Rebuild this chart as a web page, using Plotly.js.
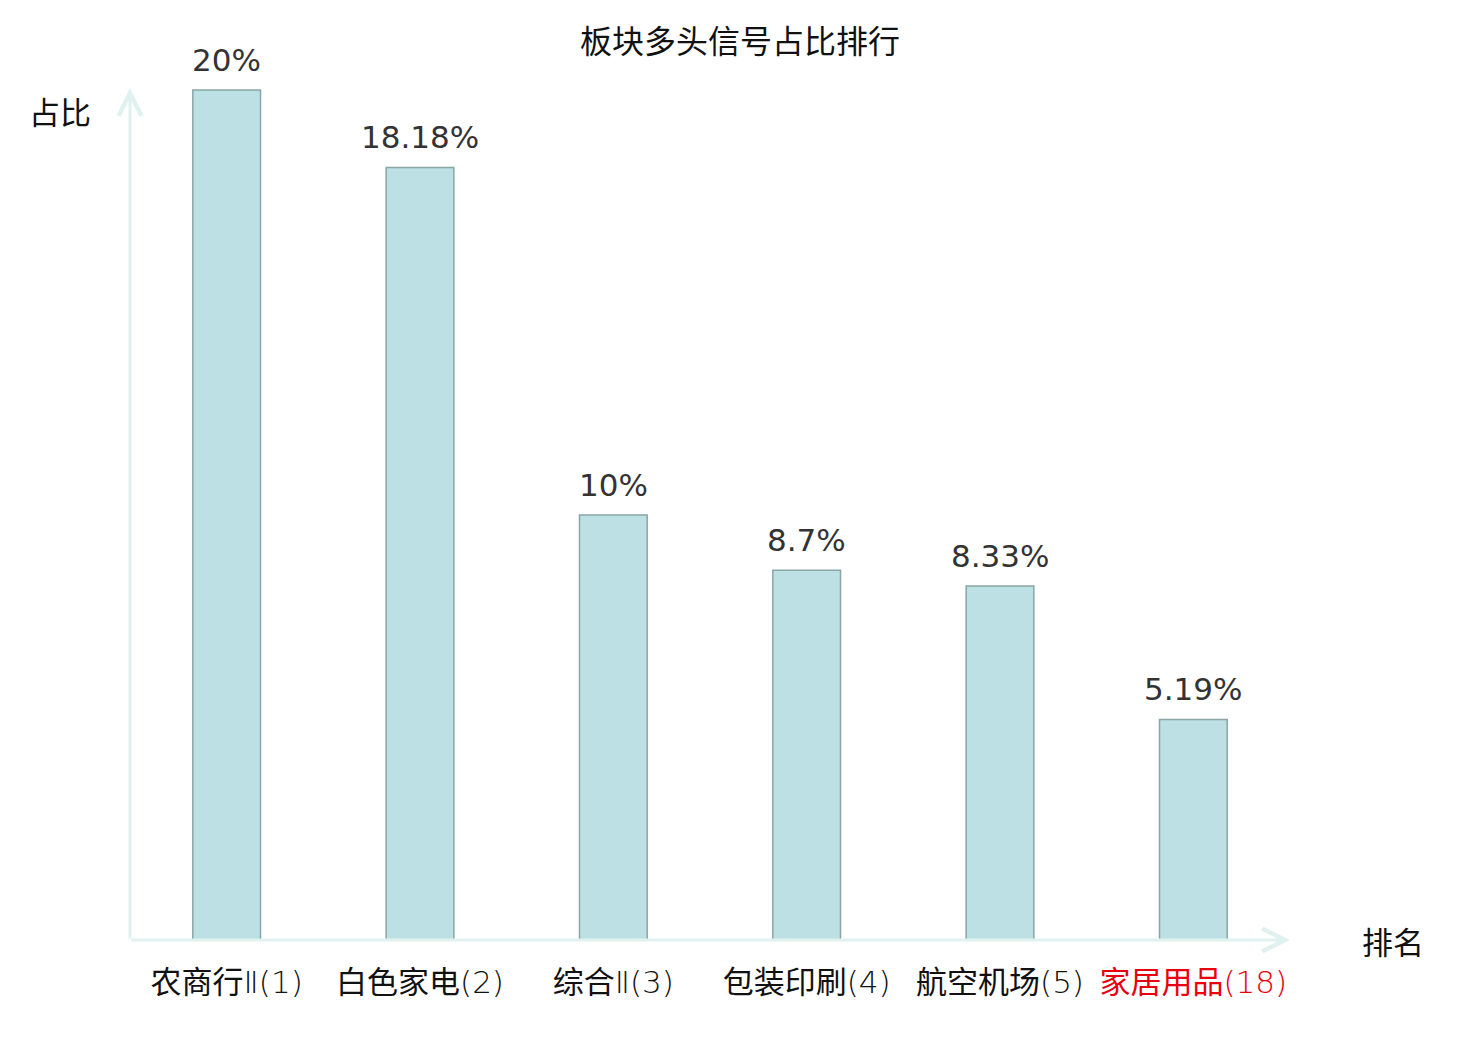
<!DOCTYPE html>
<html>
<head>
<meta charset="utf-8">
<script src="https://cdn.plot.ly/plotly-3.0.1.min.js"></script>
<style>
  html, body { margin: 0; padding: 0; background: #fff; }
  #plot { width: 1480px; height: 1040px; }
</style>
</head>
<body>
<div id="plot"></div>
<script>
// 板块多头信号占比排行
var sectors = ['农商行', '白色家电', '综合', '包装印刷', '航空机场', '家居用品'];
var suffixes = ['Ⅱ', '', 'Ⅱ', '', '', ''];
var ranks = [1, 2, 3, 4, 5, 18];
var shares = [20, 18.18, 10, 8.7, 8.33, 5.19];
var shareLabels = ['20%', '18.18%', '10%', '8.7%', '8.33%', '5.19%'];
var highlight = '家居用品';

var cjk = '"Noto Sans CJK SC", "Noto Sans", sans-serif';
var yTop = 20.05;

var cats = sectors.map(function (s, i) { return s + suffixes[i] + '(' + ranks[i] + ')'; });
var tickText = sectors.map(function (s, i) {
  var t = s + '<span style="font-family:DejaVu Sans;font-weight:200">' +
    suffixes[i] + '(' + ranks[i] + ')</span>';
  return s === highlight ? '<span style="color:#e8000b">' + t + '</span>' : t;
});

var trace1 = {
  x: cats,
  y: shares,
  type: 'bar',
  width: 0.35,
  marker: {
    color: '#bce0e3',
    line: { color: '#88a5a7', width: 1.5 }
  },
  hoverinfo: 'none'
};

var annotations = cats.map(function (c, i) {
  return {
    x: c, y: shares[i], xref: 'x', yref: 'y',
    text: shareLabels[i], showarrow: false,
    yanchor: 'bottom', yshift: 10,
    font: { family: 'DejaVu Sans, sans-serif', size: 31, color: '#333333' }
  };
});

// axis arrows
annotations.push({
  x: 5.5, y: 0, xref: 'x', yref: 'y',
  ax: -0.5, ay: 0, axref: 'x', ayref: 'y',
  showarrow: true, arrowhead: 5, arrowsize: 1.5, arrowwidth: 3,
  arrowcolor: '#dff2ef', text: ''
});
annotations.push({
  x: -0.5, y: yTop, xref: 'x', yref: 'y',
  ax: -0.5, ay: 0, axref: 'x', ayref: 'y',
  showarrow: true, arrowhead: 5, arrowsize: 1.5, arrowwidth: 3,
  arrowcolor: '#dff2ef', text: ''
});

// axis names
annotations.push({
  x: 0, y: 1, xref: 'paper', yref: 'paper',
  xanchor: 'right', yanchor: 'middle', xshift: -37, yshift: -22,
  text: '占比', showarrow: false,
  font: { family: cjk, size: 31, color: '#111111' }
});
annotations.push({
  x: 1, y: 0, xref: 'paper', yref: 'paper',
  xanchor: 'left', yanchor: 'middle', xshift: 70, yshift: 0,
  text: '排名', showarrow: false,
  font: { family: cjk, size: 31, color: '#111111' }
});

var layout = {
  width: 1480,
  height: 1040,
  margin: { l: 130, r: 190, t: 88, b: 100 },
  paper_bgcolor: '#ffffff',
  plot_bgcolor: '#ffffff',
  showlegend: false,
  title: {
    text: '板块多头信号占比排行',
    x: 0.5, xanchor: 'center',
    y: 1 - 42 / 1040, yanchor: 'middle',
    font: { family: cjk, size: 32, color: '#111111' }
  },
  xaxis: {
    type: 'category',
    range: [-0.5, 5.5],
    tickvals: cats,
    ticktext: tickText,
    showgrid: false, zeroline: false, showline: false,
    ticks: '',
    ticklabelstandoff: 21,
    tickfont: { family: cjk, size: 31, color: '#111111' }
  },
  yaxis: {
    range: [0, yTop],
    showgrid: false, zeroline: false, showline: false,
    showticklabels: false, ticks: ''
  },
  annotations: annotations
};

Plotly.newPlot('plot', [trace1], layout, { displayModeBar: false, staticPlot: true });
</script>
</body>
</html>
